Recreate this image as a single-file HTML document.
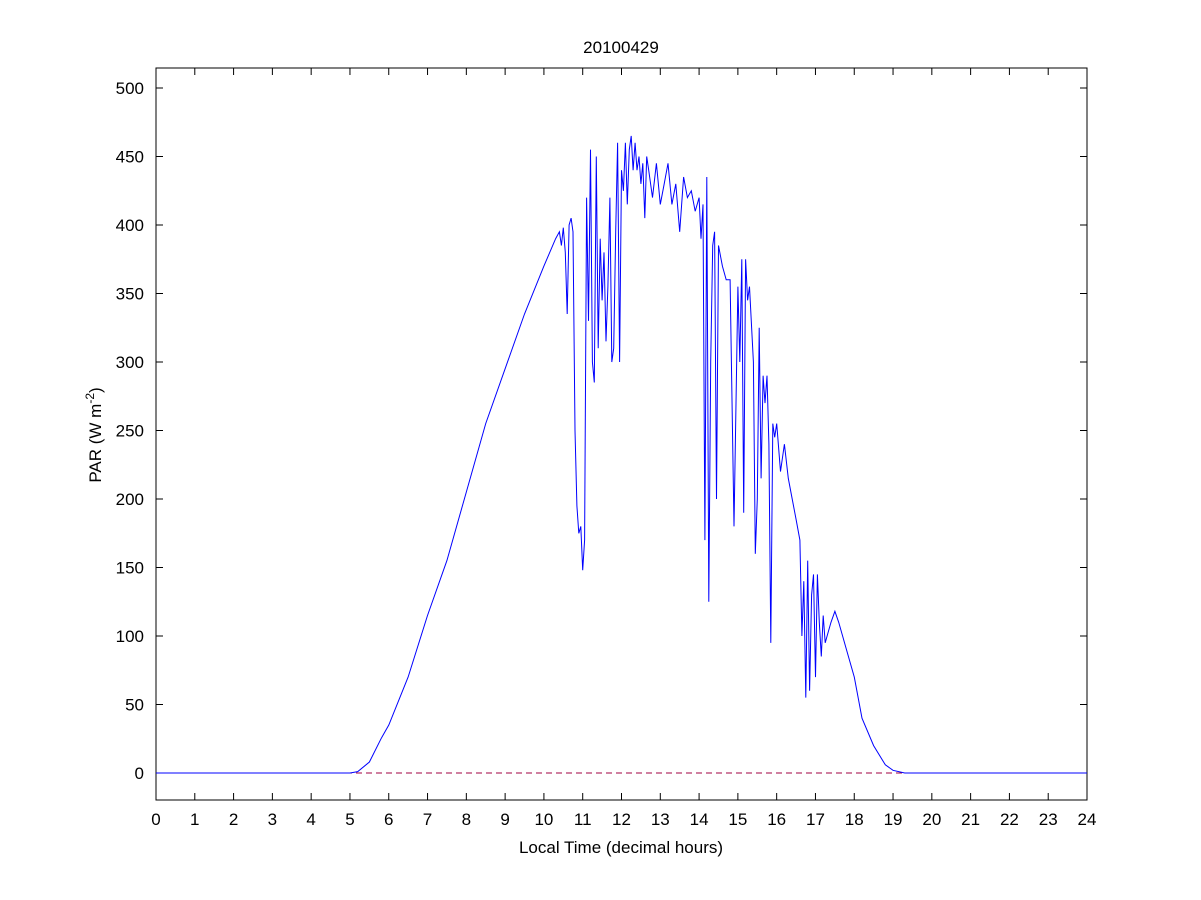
<!DOCTYPE html>
<html><head><meta charset="utf-8"><style>
body{margin:0;background:#fff;}
svg{display:block;font-family:"Liberation Sans",Arial,sans-serif;}
</style></head><body>
<svg id="chart" width="1201" height="900" viewBox="0 0 1201 900"></svg>
<script>
const times=[0,5,5.2,5.5,5.8,6,6.5,7,7.5,8,8.5,9,9.5,10,10.3,10.4,10.45,10.5,10.55,10.6,10.65,10.7,10.75,10.8,10.85,10.9,10.95,11.0,11.05,11.1,11.15,11.2,11.25,11.3,11.35,11.4,11.45,11.5,11.55,11.6,11.65,11.7,11.75,11.8,11.85,11.9,11.95,12.0,12.05,12.1,12.15,12.2,12.25,12.3,12.35,12.4,12.45,12.5,12.55,12.6,12.65,12.7,12.8,12.9,13.0,13.1,13.2,13.3,13.4,13.5,13.6,13.7,13.8,13.9,14.0,14.05,14.1,14.15,14.2,14.25,14.3,14.35,14.4,14.45,14.5,14.6,14.7,14.8,14.9,15.0,15.05,15.1,15.15,15.2,15.25,15.3,15.4,15.45,15.5,15.55,15.6,15.65,15.7,15.75,15.8,15.85,15.9,15.95,16.0,16.1,16.2,16.3,16.4,16.5,16.6,16.65,16.7,16.75,16.8,16.85,16.9,16.95,17.0,17.05,17.1,17.15,17.2,17.25,17.3,17.4,17.5,17.6,17.7,17.8,18.0,18.2,18.5,18.8,19,19.3,24];
const par=[0,0,1,8,25,35,70,115,155,205,255,295,335,370,390,395,385,398,380,335,400,405,395,250,195,175,180,148,170,420,330,455,300,285,450,310,390,345,380,315,355,420,300,310,395,460,300,440,425,460,415,455,465,440,460,440,450,430,445,405,450,440,420,445,415,430,445,415,430,395,435,420,425,410,420,390,415,170,435,125,300,385,395,200,385,370,360,360,180,355,300,375,190,375,345,355,300,160,200,325,215,290,270,290,240,95,255,245,255,220,240,215,200,185,170,100,140,55,155,60,130,145,70,145,110,85,115,95,100,110,118,110,100,90,70,40,20,6,2,0,0];
const xTicks=[0,1,2,3,4,5,6,7,8,9,10,11,12,13,14,15,16,17,18,19,20,21,22,23,24];
const yTicks=[0,50,100,150,200,250,300,350,400,450,500];
const L=156,R=1087,T=68,B=800;
const xs=h=>L+(h/24)*(R-L);
const ys=v=>773-v*(685/500);
const NS="http://www.w3.org/2000/svg";
const svg=document.getElementById('chart');
function mk(tag,attrs,parent){const e=document.createElementNS(NS,tag);for(const k in attrs)e.setAttribute(k,attrs[k]);(parent||svg).appendChild(e);return e;}
const frame=mk('rect',{x:L,y:T,width:R-L,height:B-T,fill:'#fff',stroke:'#000','stroke-width':1});


const t=mk('text',{x:621,y:53,'text-anchor':'middle','font-size':17});t.textContent='20100429';


xTicks.forEach(h=>{const x=xs(h);
 mk('line',{x1:x,x2:x,y1:B,y2:B-7,stroke:'#000'});mk('line',{x1:x,x2:x,y1:T,y2:T+7,stroke:'#000'});
 const l=mk('text',{x:x,y:825,'text-anchor':'middle','font-size':17});l.textContent=h;
 
 });
yTicks.forEach(v=>{const y=ys(v);
 mk('line',{x1:L,x2:L+7,y1:y,y2:y,stroke:'#000'});mk('line',{x1:R,x2:R-7,y1:y,y2:y,stroke:'#000'});
 const l=mk('text',{x:144,y:y+6,'text-anchor':'end','font-size':17});l.textContent=v;
 
 });
const xl=mk('text',{x:621,y:853,'text-anchor':'middle','font-size':17});xl.textContent='Local Time (decimal hours)';


const yl=mk('text',{x:0,y:0,'text-anchor':'middle','font-size':17,transform:'translate(101,435) rotate(-90)'});
yl.innerHTML='PAR (W m<tspan dy="-7" font-size="12">-2</tspan><tspan dy="7">)</tspan>';


const zl=mk('line',{x1:L,x2:R,y1:ys(0),y2:ys(0),stroke:'#a00040','stroke-dasharray':'6,4','stroke-width':1});


const d=times.map((h,i)=>(i?'L':'M')+xs(h).toFixed(1)+','+ys(par[i]).toFixed(1)).join('');
const p=mk('path',{d:d,fill:'none',stroke:'#0000ff','stroke-width':1});


</script>
</body></html>
